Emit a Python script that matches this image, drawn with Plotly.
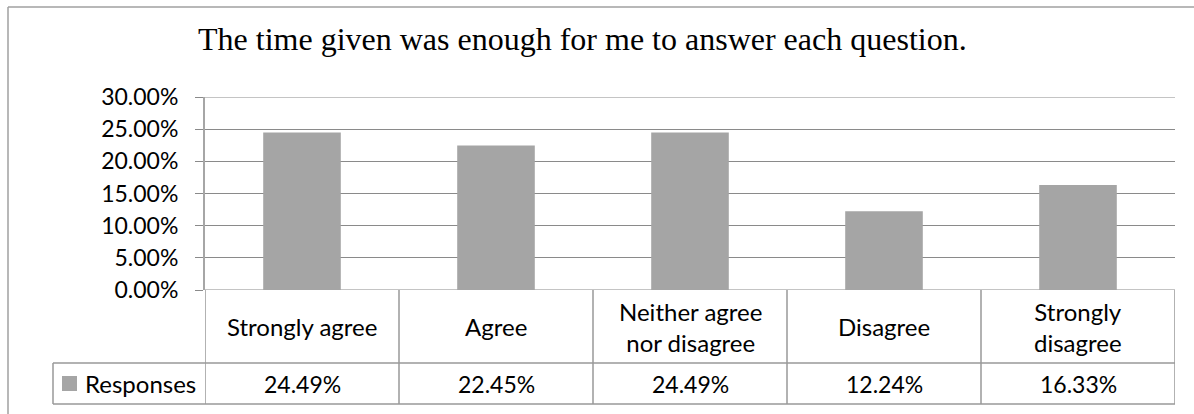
import plotly.graph_objects as go

categories = ["Strongly agree", "Agree", "Neither agree<br>nor disagree", "Disagree", "Strongly<br>disagree"]
values = [24.49, 22.45, 24.49, 12.24, 16.33]
series_name = "Responses"
title = "The time given was enough for me to answer each question."
y_ticks = [0, 5, 10, 15, 20, 25, 30]

W, H = 1194, 414
px = lambda x: x / W
py = lambda y: 1 - y / H

GRID = "#8a8a8a"
TABLE = "#999999"
AXIS = "#a6a6a6"
BAR = "#a5a5a5"
FONT = "Lato"

plot_left, plot_right = 205, 1175
plot_top, plot_bottom = 97, 290
row1_bottom, row2_bottom = 363, 404
legend_left = 53

n = len(categories)
xs = list(range(n))

fig = go.Figure()
fig.add_trace(go.Bar(x=xs, y=values, marker=dict(color=BAR, line=dict(width=0)),
                     name=series_name, showlegend=False, hoverinfo="skip"))

shapes = []
# outer chart frame (left and top)
shapes.append(dict(type="line", xref="paper", yref="paper", x0=px(8), x1=px(8), y0=py(7), y1=0,
                   line=dict(color="#a0a0a0", width=1.5)))
shapes.append(dict(type="line", xref="paper", yref="paper", x0=px(8), x1=1, y0=py(7), y1=py(7),
                   line=dict(color="#a0a0a0", width=1.5)))
# top and bottom gridlines of the value axis
for v in (y_ticks[0], y_ticks[-1]):
    shapes.append(dict(type="line", xref="paper", yref="y", x0=px(plot_left), x1=px(plot_right),
                       y0=v, y1=v, line=dict(color=GRID, width=1.2), layer="below"))

# data table vertical lines at category boundaries
for i in range(n + 1):
    shapes.append(dict(type="line", xref="x", yref="paper", x0=i - 0.5, x1=i - 0.5,
                       y0=py(plot_bottom), y1=py(row2_bottom), line=dict(color=TABLE, width=1.5)))
# horizontal lines of table
for yy in (row1_bottom, row2_bottom):
    shapes.append(dict(type="line", xref="paper", yref="paper", x0=px(legend_left), x1=px(plot_right),
                       y0=py(yy), y1=py(yy), line=dict(color=TABLE, width=1.5)))
shapes.append(dict(type="line", xref="paper", yref="paper", x0=px(legend_left), x1=px(legend_left),
                   y0=py(row1_bottom), y1=py(row2_bottom), line=dict(color=TABLE, width=1.5)))
# legend key
shapes.append(dict(type="rect", xref="paper", yref="paper", x0=px(62), x1=px(77),
                   y0=py(391), y1=py(376), fillcolor=BAR, line=dict(width=0)))

annotations = []
for i, c in enumerate(categories):
    annotations.append(dict(x=i, xref="x", y=py((plot_bottom + row1_bottom) / 2), yref="paper",
                            text=c, showarrow=False, xanchor="center", yanchor="middle",
                            font=dict(family=FONT, size=24, color="#000")))
    annotations.append(dict(x=i, xref="x", y=py((row1_bottom + row2_bottom) / 2), yref="paper",
                            text=f"{values[i]:.2f}%", showarrow=False, xanchor="center", yanchor="middle",
                            font=dict(family=FONT, size=23, color="#000")))
annotations.append(dict(x=px(83), xref="paper", y=py((row1_bottom + row2_bottom) / 2), yref="paper",
                        text=series_name, showarrow=False, xanchor="left", yanchor="middle",
                        font=dict(family=FONT, size=24, color="#000")))
annotations.append(dict(x=px(582), xref="paper", y=py(52), yref="paper", text=title, showarrow=False,
                        xanchor="center", yanchor="bottom", yshift=-7,
                        font=dict(family="Liberation Serif", size=32, color="#000")))

fig.update_layout(
    template="none",
    width=W, height=H,
    autosize=False,
    margin=dict(l=0, r=0, t=0, b=0, pad=0),
    paper_bgcolor="white", plot_bgcolor="white",
    bargap=0.6,
    shapes=shapes, annotations=annotations,
    xaxis=dict(domain=[px(plot_left), px(plot_right)], range=[-0.5, n - 0.5], automargin=False,
               showticklabels=False, showgrid=False, zeroline=False, showline=False, ticks=""),
    yaxis=dict(domain=[py(plot_bottom), py(plot_top)], range=[0, 30], automargin=False,
               tickvals=y_ticks, ticktext=[f"{v:.2f}%" for v in y_ticks],
               showgrid=True, gridcolor=GRID, gridwidth=1.2,
               zeroline=False, showline=True, linecolor=AXIS, linewidth=2,
               ticks="outside", ticklen=8, tickcolor=GRID, tickwidth=1.2,
               ticklabelstandoff=12,
               tickfont=dict(family=FONT, size=23, color="#000")),
)

fig.write_html("out.html", post_script="document.body.style.margin='0';")
